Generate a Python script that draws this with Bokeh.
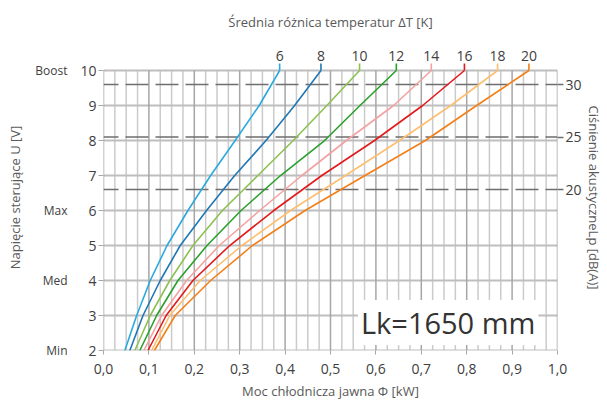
import numpy as np
from bokeh.plotting import figure
from bokeh.models import (Range1d, LinearAxis, FixedTicker, CustomJSTickFormatter,
                          Label, ColumnDataSource)
from bokeh.core.properties import value
from bokeh.embed import file_html
from bokeh.resources import INLINE

# ---------------- data ----------------
voltage = [2, 3, 4, 5, 6, 7, 8, 9, 10]
power_dt6 = [0.047, 0.073, 0.103, 0.140, 0.186, 0.236, 0.290, 0.343, 0.388]
power_dt8 = [0.058, 0.087, 0.125, 0.169, 0.227, 0.289, 0.358, 0.421, 0.479]
power_dt10 = [0.069, 0.103, 0.146, 0.197, 0.262, 0.340, 0.418, 0.492, 0.564]
power_dt12 = [0.080, 0.117, 0.164, 0.228, 0.303, 0.390, 0.487, 0.565, 0.645]
power_dt14 = [0.089, 0.128, 0.183, 0.255, 0.344, 0.437, 0.535, 0.639, 0.722]
power_dt16 = [0.098, 0.138, 0.197, 0.278, 0.375, 0.481, 0.597, 0.703, 0.795]
power_dt18 = [0.106, 0.146, 0.213, 0.305, 0.412, 0.533, 0.652, 0.765, 0.868]
power_dt20 = [0.112, 0.158, 0.236, 0.328, 0.444, 0.576, 0.709, 0.822, 0.937]
dt_labels = ["6", "8", "10", "12", "14", "16", "18", "20"]

voltage_ticks = [2, 3, 4, 5, 6, 7, 8, 9, 10]
level_ticks = [2, 4, 6, 10]
level_names = ["Min", "Med", "Max", "Boost"]
x_ticks = [0.0, 0.1, 0.2, 0.3, 0.4, 0.5, 0.6, 0.7, 0.8, 0.9, 1.0]
db_ticks = [20, 25, 30]
db_at_2v = 4.67        # right scale reading at U = 2 V
db_per_volt = 3.333    # right scale slope

title_top = "Średnia różnica temperatur ΔT [K]"
title_bottom = "Moc chłodnicza jawna Φ [kW]"
title_left = "Napięcie sterujące U [V]"
title_right = "Ciśnienie akustyczneLp [dB(A)]"
note_text = "Lk=1650 mm"

# ---------------- styles ----------------
colors = ["#2AA9E0", "#1F77B4", "#8CC152", "#2CA02C",
          "#F4A1A1", "#E31A1C", "#FDBF6F", "#F57F17"]
FONT = "Open Sans"
TITLE_COLOR = "#595959"
LABEL_COLOR = "#404040"
x_min, x_max = 0.0, 1.0
v_min, v_max = 2, 10
v_top = 10.743          # headroom above the grid for the ΔT labels
leader_len = 0.2        # small stub above each curve end

series = [power_dt6, power_dt8, power_dt10, power_dt12,
          power_dt14, power_dt16, power_dt18, power_dt20]

p = figure(width=607, height=403, x_range=Range1d(x_min, x_max),
           y_range=Range1d(v_min, v_top), output_backend="svg",
           toolbar_location=None, min_border_left=103, min_border_right=50,
           min_border_top=44, min_border_bottom=53)
p.xgrid.visible = False
p.ygrid.visible = False
p.outline_line_color = None
p.background_fill_color = "white"
p.border_fill_color = "white"

p.extra_y_ranges = {"db": Range1d(db_at_2v, db_at_2v + (v_top - v_min) * db_per_volt)}

# ---- grid drawn from tick arrays ----
minor_x = [round(v, 3) for v in np.arange(0, 1.0001, 0.025) if abs(v * 10 - round(v * 10)) > 1e-6]
p.segment(x0=minor_x, y0=[v_min] * len(minor_x), x1=minor_x, y1=[v_max] * len(minor_x),
          line_color="#CBCBCB", line_width=1.5)
p.segment(x0=[x_min] * len(voltage_ticks), y0=voltage_ticks,
          x1=[x_max] * len(voltage_ticks), y1=voltage_ticks,
          line_color="#BEBEBE", line_width=1.8)
p.segment(x0=x_ticks, y0=[v_min] * len(x_ticks), x1=x_ticks, y1=[v_max] * len(x_ticks),
          line_color="#A6A6A6", line_width=1.5)

# ---- dB reference lines ----
p.segment(x0=[x_min] * len(db_ticks), y0=db_ticks, x1=[x_max] * len(db_ticks), y1=db_ticks,
          y_range_name="db", line_color="#6E6E6E", line_width=1.6, line_dash="23 7",
          line_dash_offset=8)

# ---- curves ----
for pw, c in zip(series, colors):
    p.line(pw, voltage, line_color=c, line_width=1.6, line_join="round")

tops = [s[-1] for s in series]
p.segment(x0=tops, y0=[v_max] * len(tops), x1=tops, y1=[v_max + leader_len] * len(tops),
          line_color=colors, line_width=1.6)

lab_src = ColumnDataSource(dict(x=tops, y=[v_max] * len(tops), text=dt_labels))
p.text(x="x", y="y", text="text", source=lab_src, y_offset=-15,
       text_align="center", text_baseline="middle",
       text_font=value(FONT), text_font_size="14px", text_color=LABEL_COLOR)

p.add_layout(Label(x=0.958, y=2.8, text=note_text, text_align="right",
                   text_baseline="middle", text_font=FONT, text_font_size="29px",
                   text_color="#333333", background_fill_color="white", padding=3))

# ---- axes ----
def style_title(ax, text):
    ax.axis_label = text
    ax.axis_label_text_font = FONT
    ax.axis_label_text_font_size = "13px"
    ax.axis_label_text_font_style = "normal"
    ax.axis_label_text_color = TITLE_COLOR

xa = p.xaxis[0]
xa.ticker = FixedTicker(ticks=x_ticks)
xa.formatter = CustomJSTickFormatter(code="return tick.toFixed(1).replace('.', ',');")
xa.axis_line_color = None
xa.major_tick_out = 4
xa.major_tick_in = 0
xa.major_tick_line_color = "#A6A6A6"
xa.minor_tick_line_color = None
xa.major_label_standoff = 9
xa.major_label_text_font = FONT
xa.major_label_text_font_size = "14px"
xa.major_label_text_color = LABEL_COLOR
style_title(xa, title_bottom)
xa.axis_label_standoff = 5

ya = p.yaxis[0]
ya.ticker = FixedTicker(ticks=voltage_ticks)
ya.axis_line_color = None
ya.major_tick_out = 5
ya.major_tick_in = 0
ya.major_tick_line_color = "#A6A6A6"
ya.minor_tick_line_color = None
ya.major_label_standoff = 2
ya.major_label_text_font = FONT
ya.major_label_text_font_size = "14px"
ya.major_label_text_color = LABEL_COLOR

lvl = LinearAxis(ticker=FixedTicker(ticks=level_ticks),
                 formatter=CustomJSTickFormatter(
                     args=dict(lv_ticks=level_ticks, lv_names=level_names),
                     code="const i = lv_ticks.indexOf(tick); return i >= 0 ? lv_names[i] : '';"))
lvl.axis_line_color = None
lvl.major_tick_line_color = None
lvl.minor_tick_line_color = None
lvl.major_label_standoff = 4
lvl.major_label_text_font = FONT
lvl.major_label_text_font_size = "12px"
lvl.major_label_text_color = LABEL_COLOR
style_title(lvl, title_left)
lvl.axis_label_standoff = 8
p.add_layout(lvl, "left")

ra = LinearAxis(y_range_name="db", ticker=FixedTicker(ticks=db_ticks))
ra.axis_line_color = None
ra.major_tick_out = 6
ra.major_tick_in = 0
ra.major_tick_line_color = "#6E6E6E"
ra.major_tick_line_width = 1.6
ra.minor_tick_line_color = None
ra.major_label_standoff = 2
ra.major_label_text_font = FONT
ra.major_label_text_font_size = "14px"
ra.major_label_text_color = LABEL_COLOR
style_title(ra, title_right)
ra.axis_label_standoff = 0
p.add_layout(ra, "right")

ta = LinearAxis(ticker=FixedTicker(ticks=[]))
ta.axis_line_color = None
ta.major_tick_line_color = None
ta.minor_tick_line_color = None
ta.major_label_text_font_size = "0px"
style_title(ta, title_top)
ta.axis_label_standoff = 14
p.add_layout(ta, "above")

open("out.html", "w").write(file_html(p, INLINE))
